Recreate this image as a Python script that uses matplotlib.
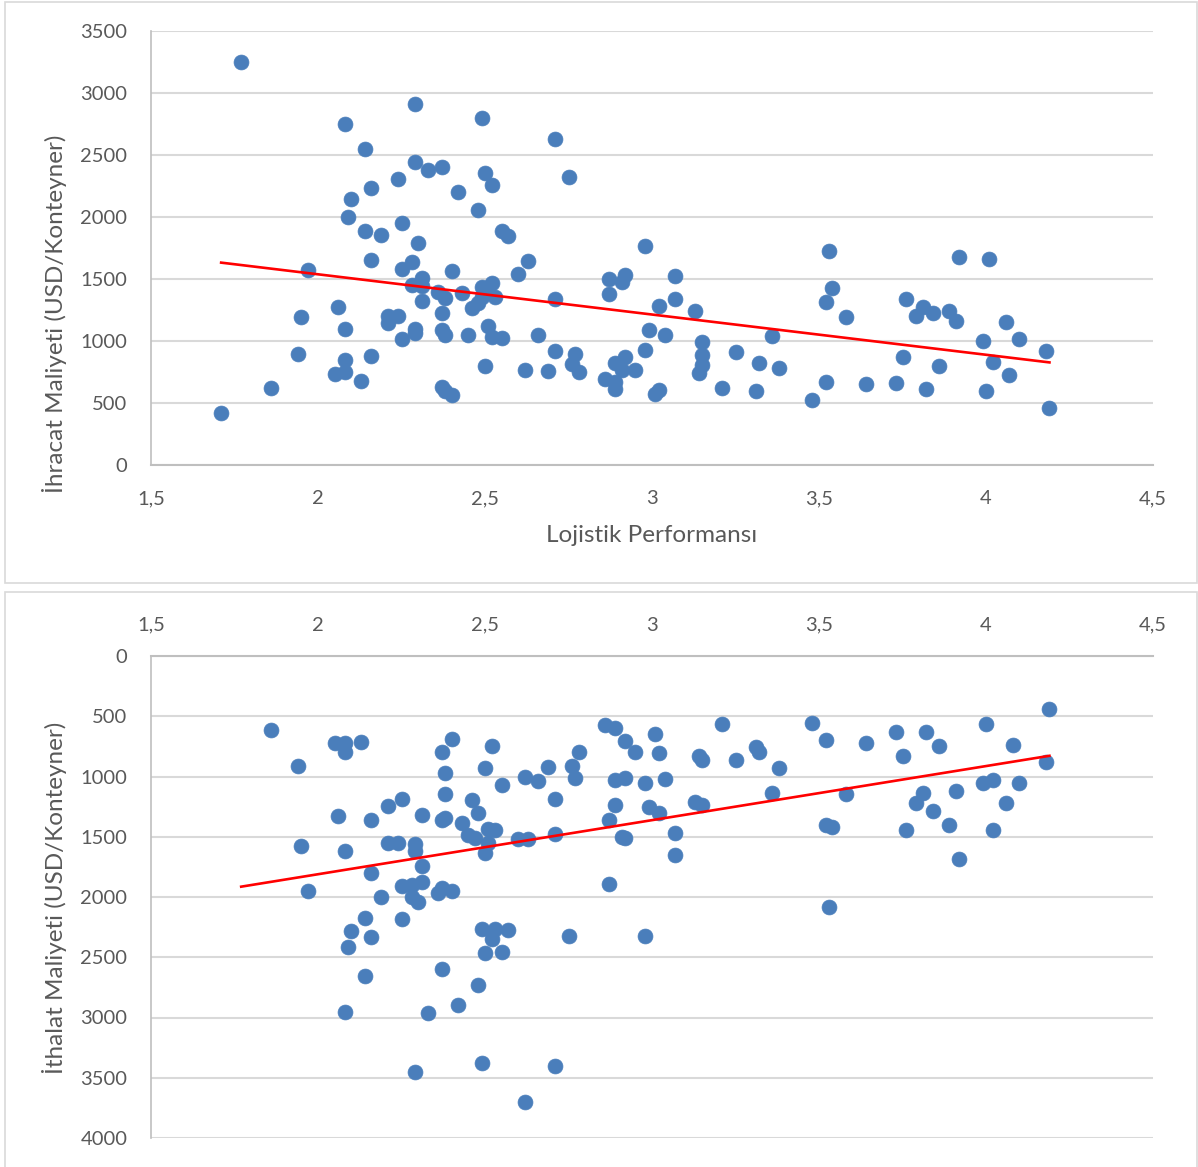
import numpy as np
import matplotlib.pyplot as plt
from matplotlib.patches import Rectangle
from matplotlib.ticker import FuncFormatter, MultipleLocator

plt.rcParams['font.family'] = ['Lato', 'DejaVu Sans']

#----Data----
lpi_exp = [1.71, 1.77, 1.86, 1.94, 1.95, 1.97, 2.05, 2.06, 2.08, 2.08,
           2.08, 2.08, 2.09, 2.10, 2.13, 2.14, 2.14, 2.16, 2.16, 2.16,
           2.19, 2.21, 2.21, 2.24, 2.24, 2.25, 2.25, 2.25, 2.28, 2.28,
           2.29, 2.29, 2.29, 2.29, 2.30, 2.31, 2.31, 2.31, 2.33, 2.36,
           2.37, 2.37, 2.37, 2.37, 2.38, 2.38, 2.38, 2.40, 2.40, 2.42,
           2.43, 2.45, 2.46, 2.48, 2.48, 2.49, 2.50, 2.49, 2.49, 2.50,
           2.51, 2.52, 2.52, 2.52, 2.53, 2.55, 2.55, 2.57, 2.60, 2.62,
           2.63, 2.66, 2.69, 2.71, 2.71, 2.71, 2.75, 2.76, 2.77, 2.78,
           2.86, 2.87, 2.87, 2.89, 2.89, 2.89, 2.91, 2.92, 2.92, 2.91,
           2.95, 2.98, 2.98, 2.99, 3.01, 3.02, 3.02, 3.04, 3.07, 3.07,
           3.13, 3.14, 3.15, 3.15, 3.15, 3.21, 3.25, 3.31, 3.32, 3.36,
           3.38, 3.48, 3.52, 3.52, 3.53, 3.54, 3.58, 3.64, 3.73, 3.75,
           3.76, 3.79, 3.81, 3.82, 3.84, 3.86, 3.89, 3.91, 3.92, 3.99,
           4.00, 4.01, 4.02, 4.06, 4.07, 4.10, 4.18, 4.19, 2.51]
export_cost = [420, 3250, 625, 895, 1194, 1573, 734, 1274, 2750, 1097,
               847, 750, 2000, 2145, 677, 2548, 1887, 2234, 1653, 879,
               1855, 1202, 1145, 2307, 1202, 1952, 1581, 1016, 1637, 1452,
               2911, 2444, 1097, 1065, 1790, 1508, 1444, 1323, 2379, 1395,
               2403, 1226, 1089, 629, 1347, 1048, 597, 565, 1565, 2202,
               1387, 1048, 1266, 2057, 1307, 2799, 2355, 1436, 1355, 798,
               1121, 2258, 1032, 1468, 1355, 1887, 1024, 1847, 1540, 766,
               1645, 1048, 758, 2629, 1339, 919, 2323, 815, 895, 750,
               694, 1500, 1379, 823, 669, 613, 1476, 1532, 871, 766,
               766, 1766, 927, 1089, 573, 605, 1282, 1048, 1524, 1339,
               1242, 742, 992, 887, 807, 621, 911, 597, 823, 1040,
               782, 524, 1315, 669, 1726, 1428, 1194, 653, 661, 871,
               1339, 1202, 1274, 613, 1226, 798, 1242, 1161, 1678, 1000,
               597, 1661, 831, 1153, 726, 1016, 919, 460, 1395]

lpi_imp = [1.86, 1.94, 1.95, 1.97, 2.05, 2.08, 2.08, 2.13, 2.06, 2.08,
           2.08, 2.09, 2.10, 2.14, 2.14, 2.16, 2.16, 2.16, 2.19, 2.21,
           2.21, 2.24, 2.25, 2.25, 2.25, 2.28, 2.28, 2.29, 2.29, 2.29,
           2.30, 2.31, 2.31, 2.31, 2.33, 2.36, 2.37, 2.37, 2.37, 2.37,
           2.38, 2.38, 2.38, 2.40, 2.40, 2.42, 2.43, 2.45, 2.46, 2.47,
           2.48, 2.48, 2.49, 2.49, 2.50, 2.50, 2.50, 2.51, 2.51, 2.52,
           2.52, 2.53, 2.53, 2.55, 2.55, 2.57, 2.60, 2.62, 2.62, 2.63,
           2.66, 2.69, 2.71, 2.71, 2.71, 2.75, 2.76, 2.77, 2.78, 2.86,
           2.87, 2.87, 2.89, 2.89, 2.89, 2.91, 2.92, 2.92, 2.92, 2.95,
           2.98, 2.98, 2.99, 3.01, 3.02, 3.02, 3.04, 3.07, 3.07, 3.13,
           3.14, 3.15, 3.15, 3.21, 3.25, 3.31, 3.32, 3.36, 3.38, 3.48,
           3.52, 3.52, 3.53, 3.54, 3.58, 3.64, 3.73, 3.75, 3.76, 3.79,
           3.81, 3.82, 3.84, 3.86, 3.89, 3.91, 3.92, 3.99, 4.00, 4.02,
           4.02, 4.06, 4.08, 4.10, 4.18, 4.19]
import_cost = [614, 913, 1577, 1950, 722, 722, 797, 714, 1328, 1619,
               2955, 2415, 2283, 2175, 2656, 1361, 1801, 2332, 2000, 1245,
               1552, 1552, 1187, 1909, 2183, 1901, 2000, 1560, 1619, 3453,
               2042, 1320, 1743, 1876, 2963, 1967, 1361, 2598, 797, 1926,
               971, 1145, 1345, 689, 1950, 2897, 1386, 1486, 1195, 1511,
               1303, 2731, 2266, 3378, 930, 1635, 2465, 1436, 1552, 747,
               2349, 2266, 1444, 1071, 2457, 2274, 1519, 1004, 3702, 1519,
               1038, 921, 1187, 1477, 3403, 2324, 913, 1013, 797, 573,
               1361, 1892, 598, 1029, 1237, 1502, 706, 1013, 1511, 797,
               1054, 2324, 1253, 647, 805, 1303, 1021, 1469, 1652, 1212,
               830, 863, 1237, 564, 863, 755, 797, 1137, 930, 556,
               697, 1403, 2083, 1419, 1145, 722, 631, 830, 1444, 1220,
               1137, 631, 1287, 747, 1403, 1121, 1685, 1054, 564, 1029,
               1444, 1220, 739, 1054, 880, 440]

#----Styles----
blue = '#4a7ebb'
red = '#ff0000'
grid_col = '#d9d9d9'
axis_col = '#bfbfbf'
text_col = '#595959'

def comma(v, pos):
    s = ('%g' % v)
    return s.replace('.', ',')

W, H = 1198, 1167
fig = plt.figure(figsize=(W / 100, H / 100), dpi=100)

#----Panel frames----
fig.patches.append(Rectangle((5 / W, 1 - 583 / H), 1192 / W, 581 / H, transform=fig.transFigure,
                             fill=False, edgecolor=grid_col, linewidth=1.2))
fig.patches.append(Rectangle((5 / W, -0.01), 1192 / W, 0.01 + (1167 - 592) / H, transform=fig.transFigure,
                             fill=False, edgecolor=grid_col, linewidth=1.2))

ax1 = fig.add_axes([151 / W, 1 - 465 / H, 1002 / W, 434 / H])
ax2 = fig.add_axes([151 / W, 1 - 1138 / H, 1002 / W, 482 / H])

def style(ax):
    ax.set_xlim(1.5, 4.5)
    ax.xaxis.set_major_locator(MultipleLocator(0.5))
    ax.xaxis.set_major_formatter(FuncFormatter(comma))
    ax.yaxis.set_major_locator(MultipleLocator(500))
    ax.grid(axis='y', color=grid_col, linewidth=1.5)
    ax.set_axisbelow(True)
    ax.tick_params(length=0, labelsize=14.5, labelcolor=text_col)
    ax.tick_params(axis='y', pad=17)
    for s in ax.spines.values():
        s.set_visible(False)
    ax.spines['left'].set_visible(True)
    ax.spines['left'].set_color(axis_col)
    ax.spines['left'].set_linewidth(1.2)

#----Export cost panel----
style(ax1)
ax1.set_ylim(0, 3500)
ax1.spines['bottom'].set_visible(True)
ax1.spines['bottom'].set_color(axis_col)
ax1.spines['bottom'].set_linewidth(1.5)
ax1.tick_params(axis='x', pad=18)
ax1.scatter(lpi_exp, export_cost, s=115, color=blue, edgecolors=blue, linewidths=0.5, zorder=3)
k1 = np.polyfit(lpi_exp, export_cost, 1)
tx1 = np.array([min(lpi_exp), max(lpi_exp)])
ax1.plot(tx1, np.polyval(k1, tx1), color=red, linewidth=1.9, zorder=4)

#----Import cost panel----
style(ax2)
ax2.set_ylim(4000, 0)
ax2.xaxis.tick_top()
ax2.spines['top'].set_visible(True)
ax2.spines['top'].set_color(axis_col)
ax2.spines['top'].set_linewidth(1.5)
ax2.tick_params(axis='x', pad=16)
ax2.scatter(lpi_imp, import_cost, s=115, color=blue, edgecolors=blue, linewidths=0.5, zorder=3)
k2 = np.polyfit(lpi_imp, import_cost, 1)
tx2 = np.array([1.77, max(lpi_imp)])
ax2.plot(tx2, np.polyval(k2, tx2), color=red, linewidth=1.9, zorder=4)

#----Axis titles----
fig.text(55 / W, 1 - 314 / H, 'İhracat Maliyeti (USD/Konteyner)', rotation=90,
         ha='center', va='center', fontsize=17.5, color=text_col)
fig.text(55 / W, 1 - 898 / H, 'İthalat Maliyeti (USD/Konteyner)', rotation=90,
         ha='center', va='center', fontsize=17.5, color=text_col)
fig.text(652 / W, 1 - 535 / H, 'Lojistik Performansı', ha='center', va='center',
         fontsize=17.5, color=text_col)

fig.savefig('out.png', dpi=100)
